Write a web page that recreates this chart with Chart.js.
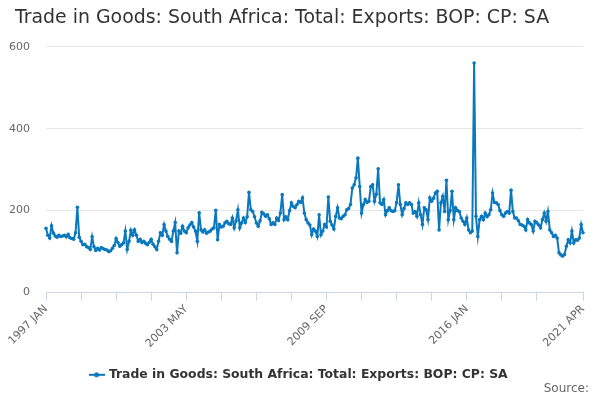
<!DOCTYPE html>
<html>
<head>
<meta charset="utf-8">
<script src="https://cdn.jsdelivr.net/npm/chart.js@4.4.0/dist/chart.umd.min.js"></script>
<style>
  html, body { margin: 0; padding: 0; background: #fff; }
  #wrap { width: 600px; height: 400px; position: relative; }
</style>
</head>
<body>
<div id="wrap"><canvas id="chart"></canvas></div>
<script>
// Monthly series, 1997 JAN .. 2021 APR
const startYear = 1997;
const monthNames = ["JAN", "FEB", "MAR", "APR", "MAY", "JUN", "JUL", "AUG", "SEP", "OCT", "NOV", "DEC"];
const seriesName = "Trade in Goods: South Africa: Total: Exports: BOP: CP: SA";

const exportsValues = [
  157,140,133,163,145,138,135,140,137,138,140,136,142,134,132,130,146,208,135,125,
  117,118,112,110,105,136,112,103,108,104,110,107,105,104,100,102,108,115,132,122,
  113,117,121,150,105,125,152,140,153,140,125,130,122,125,120,117,123,130,118,112,
  105,125,146,140,166,150,137,130,125,150,171,97,150,145,162,150,146,158,165,171,
  160,150,125,195,153,148,153,145,148,150,155,158,201,129,166,160,162,170,174,168,
  166,182,158,175,202,158,170,182,171,185,245,202,198,185,170,162,175,196,192,186,
  190,180,166,170,166,182,176,194,239,178,185,178,200,219,210,207,215,223,220,231,
  194,178,170,165,141,155,150,137,190,141,150,166,160,233,174,165,155,186,207,182,
  180,186,190,202,205,215,255,263,280,328,259,194,215,227,220,223,259,263,223,240,
  302,219,215,227,190,200,207,200,198,200,220,263,215,190,205,219,215,219,215,194,
  198,186,219,190,166,207,202,178,231,223,230,243,247,153,219,235,198,274,178,200,
  247,178,207,200,198,182,174,166,182,153,146,150,560,186,137,178,186,178,194,185,
  190,202,243,220,219,215,200,190,186,194,198,194,250,198,182,182,175,166,165,162,
  153,178,170,166,150,174,170,165,158,178,194,174,198,153,146,137,140,133,97,92,
  89,93,113,129,121,150,121,129,128,133,166,146
];

// x tick marks (category index) and which of them carry a label
const xTickIndexes = [0,19,38,57,76,95,114,133,152,171,190,209,228,247,266,291];
const xLabelIndexes = [0,76,152,228,291];
const yTicks = [0,200,400,600];

const categories = exportsValues.map((v, i) =>
  (startYear + Math.floor(i / 12)) + " " + monthNames[i % 12]);

const lineColor = "#0a78bd";
const font = "'DejaVu Sans', sans-serif";

// legend symbol: short line with a dot
const legendIcon = document.createElement("canvas");
legendIcon.width = 16;
legendIcon.height = 8;
(function () {
  const c = legendIcon.getContext("2d");
  c.strokeStyle = lineColor;
  c.lineWidth = 2;
  c.beginPath();
  c.moveTo(0, 4);
  c.lineTo(16, 4);
  c.stroke();
  c.fillStyle = lineColor;
  c.beginPath();
  c.arc(8, 4, 2.5, 0, Math.PI * 2);
  c.fill();
})();

const sourcePlugin = {
  id: "sourceText",
  afterLayout(chart) {
    // y labels are clipped to the scale box; let it reach the canvas edge
    chart.scales.y.left = 0;
  },
  afterDraw(chart) {
    const ctx = chart.ctx;
    ctx.save();
    ctx.font = "12px " + font;
    ctx.fillStyle = "#666";
    ctx.textAlign = "right";
    ctx.textBaseline = "middle";
    ctx.fillText("Source:", 589, 389);
    ctx.restore();
  }
};

new Chart(document.getElementById("chart"), {
  type: "line",
  data: {
    labels: categories,
    datasets: [{
      label: seriesName,
      data: exportsValues,
      borderColor: lineColor,
      backgroundColor: lineColor,
      borderWidth: 2,
      pointRadius: 1.8,
      pointBorderWidth: 0,
      pointBackgroundColor: lineColor,
      pointStyle: "circle",
      tension: 0
    }]
  },
  options: {
    responsive: true,
    maintainAspectRatio: false,
    animation: false,
    layout: { padding: { left: 15, right: 17, top: 0, bottom: 9 } },
    plugins: {
      title: {
        display: true,
        text: seriesName,
        align: "start",
        color: "#333",
        font: { family: font, size: 18.9, weight: "normal" },
        padding: { top: 7, bottom: 17 }
      },
      legend: {
        position: "bottom",
        labels: {
          usePointStyle: true,
          pointStyle: legendIcon,
          color: "#333",
          font: { family: font, size: 12.4, weight: "bold" },
          padding: 10
        }
      },
      tooltip: { enabled: false }
    },
    scales: {
      x: {
        type: "category",
        afterBuildTicks(scale) {
          scale.ticks = xTickIndexes.map(v => ({ value: v }));
        },
        afterFit(scale) { scale.height = 66; },
        grid: {
          drawOnChartArea: false,
          drawTicks: true,
          tickLength: 8,
          color: "#ccd6eb"
        },
        border: { color: "#ccd6eb", width: 1 },
        ticks: {
          autoSkip: false,
          minRotation: 45,
          maxRotation: 45,
          padding: 2,
          color: "#666",
          font: { family: font, size: 11 },
          callback(value) {
            return xLabelIndexes.includes(value) ? this.getLabelForValue(value) : "";
          }
        }
      },
      y: {
        min: 0,
        max: 600,
        afterBuildTicks(scale) {
          scale.ticks = yTicks.map(v => ({ value: v }));
        },
        afterFit(scale) { scale.width = 31; },
        grid: { color: "#e6e6e6", drawTicks: false },
        border: { display: false },
        ticks: {
          padding: 16,
          color: "#666",
          font: { family: font, size: 11 }
        }
      }
    }
  },
  plugins: [sourcePlugin]
});
</script>
</body>
</html>
